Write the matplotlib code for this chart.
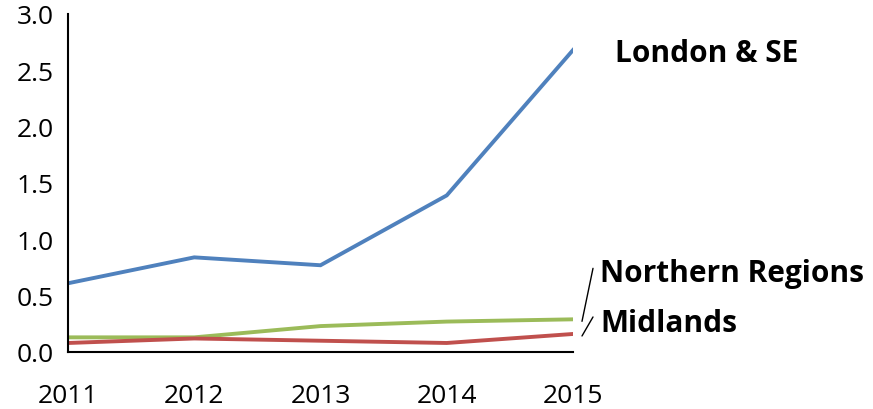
import matplotlib
matplotlib.use('Agg')
import matplotlib.pyplot as plt
import matplotlib.transforms as mtransforms

years = [2011, 2012, 2013, 2014, 2015]
london = [0.61, 0.84, 0.77, 1.39, 2.68]
northern = [0.13, 0.13, 0.23, 0.27, 0.29]
midlands = [0.08, 0.12, 0.10, 0.08, 0.16]
y_ticks = [0.0, 0.5, 1.0, 1.5, 2.0, 2.5, 3.0]

plt.rcParams['font.family'] = ['Open Sans', 'DejaVu Sans']

fig = plt.figure(figsize=(8.73, 4.10), dpi=100)
ax = fig.add_axes([68 / 873, 1 - 353 / 410, (573 - 68) / 873, (353 - 15) / 410])

ax.plot(years, london, color='#4F81BD', lw=2.8, solid_joinstyle='miter')
ax.plot(years, northern, color='#9BBB59', lw=2.8)
ax.plot(years, midlands, color='#C0504D', lw=2.8)

ax.set_xlim(years[0], years[-1])
ax.set_ylim(0, 3.0)
ax.set_xticks(years)
ax.set_xticklabels([str(y) for y in years])
ax.set_yticks(y_ticks)
ax.set_yticklabels([f'{v:.1f}' for v in y_ticks])
ax.tick_params(axis='both', length=0, labelsize=19)
ax.tick_params(axis='y', pad=10)
ax.tick_params(axis='x', pad=22)
for s in ['top', 'right']:
    ax.spines[s].set_visible(False)
for s in ['left', 'bottom']:
    ax.spines[s].set_linewidth(1.5)

lbl = dict(fontsize=21.5, fontweight='bold', ha='left', va='center',
           textcoords='offset pixels', annotation_clip=False)
ax.annotate('London & SE', xy=(years[-1], london[-1]), xytext=(42, -3), **lbl)
ax.annotate('Northern Regions', xy=(years[-1], northern[-1]), xytext=(27, 46), **lbl)
ax.annotate('Midlands', xy=(years[-1], midlands[-1]), xytext=(27, 11), **lbl)

# leader lines from the line ends to the labels
shifted = mtransforms.offset_copy(ax.transData, fig=fig, x=9, y=-2, units='dots')
for vals, dy in [(northern, 53), (midlands, 19)]:
    ax.annotate('', xy=(years[-1], vals[-1]), xycoords=shifted,
                xytext=(11, dy), textcoords='offset pixels', annotation_clip=False,
                arrowprops=dict(arrowstyle='-', color='black', lw=1,
                                shrinkA=0, shrinkB=0))

fig.savefig('out.png', dpi=100)
